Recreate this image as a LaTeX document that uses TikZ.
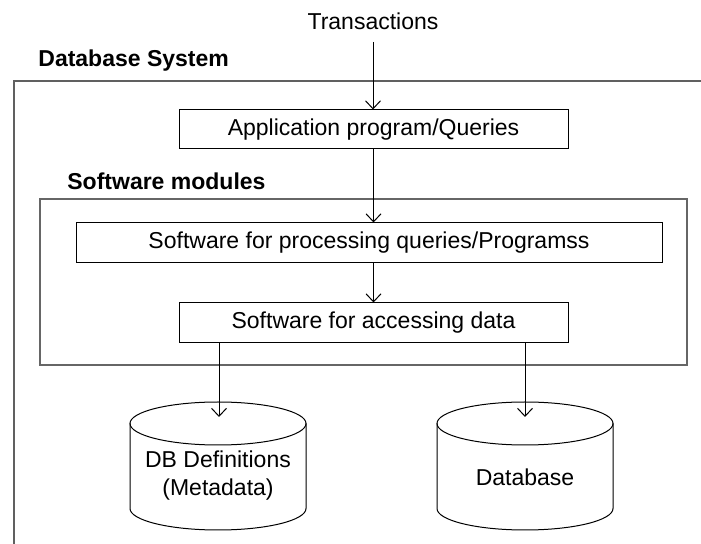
\documentclass[tikz,border=0pt]{standalone}
\usepackage{fontspec}
\setmainfont{Liberation Sans}
\usetikzlibrary{arrows.meta}

\tikzset{
  base/.style={font=\fontsize{11.5pt}{14pt}\selectfont},
  stepbox/.style={draw=black, line width=0.5pt, base, inner sep=0pt},
  title/.style={base, font=\fontsize{11.5pt}{14pt}\selectfont\bfseries, anchor=west, inner sep=0pt},
  arr/.style={draw=black, line width=0.5pt, -{Straight Barb[length=4pt,width=7.5pt]}},
  cyl/.style={draw=black, line width=0.5pt},
}

\begin{document}
\begin{tikzpicture}[x=0.5pt, y=-0.5pt]
  % page frame
  \useasboundingbox (0,0) rectangle (701,544);

  % outer system frame (open to the right and bottom)
  \draw[gray!75!black, line width=1pt] (14,544) -- (14,81) -- (701,81);
  \node[title] (systitle) at (38,61) {Database System};

  % input
  \node[base, inner sep=0pt] (trans) at (373,21) {Transactions};

  % application layer
  \node[stepbox, minimum width=194.5pt, minimum height=19.5pt] (app) at (373.5,129.5) {Application program/Queries};

  % software modules group
  \node[draw=gray!80!black, line width=0.6pt, minimum width=323.5pt, minimum height=83pt, inner sep=0pt] (modules) at (363.5,282) {};
  \node[title] (modtitle) at (67,181) {Software modules};

  \node[stepbox, minimum width=293pt, minimum height=20pt] (proc) at (369,243) {Software for processing queries/Programss};
  \node[stepbox, minimum width=194.5pt, minimum height=20pt] (acc) at (373.5,323) {Software for accessing data};

  % storage cylinders
  \foreach \cx/\nm in {218/dbdef, 525/dbase}{
    \draw[cyl] (\cx,423.5) ellipse[x radius=44pt, y radius=10.75pt];
    \draw[cyl] (\cx-88,423.5) -- (\cx-88,508.5)
      arc[start angle=180, end angle=360, x radius=44pt, y radius=10.75pt]
      -- (\cx+88,423.5);
  }
  \node[base, align=center, inner sep=0pt] (defs) at (218,476) {DB Definitions\\(Metadata)};
  \node[base, inner sep=0pt] (data) at (525,477) {Database};
  \coordinate (defstop) at (219,417);
  \coordinate (datatop) at (525,417);

  % flow
  \draw[arr, shorten <=6pt] (trans.south) -- (trans.south |- app.north);
  \draw[arr] (app.south) -- (app.south |- proc.north);
  \draw[arr] (app.south |- proc.south) -- (app.south |- acc.north);
  \draw[arr] (acc.south -| defstop) -- (defstop);
  \draw[arr] (acc.south -| datatop) -- (datatop);
\end{tikzpicture}
\end{document}
